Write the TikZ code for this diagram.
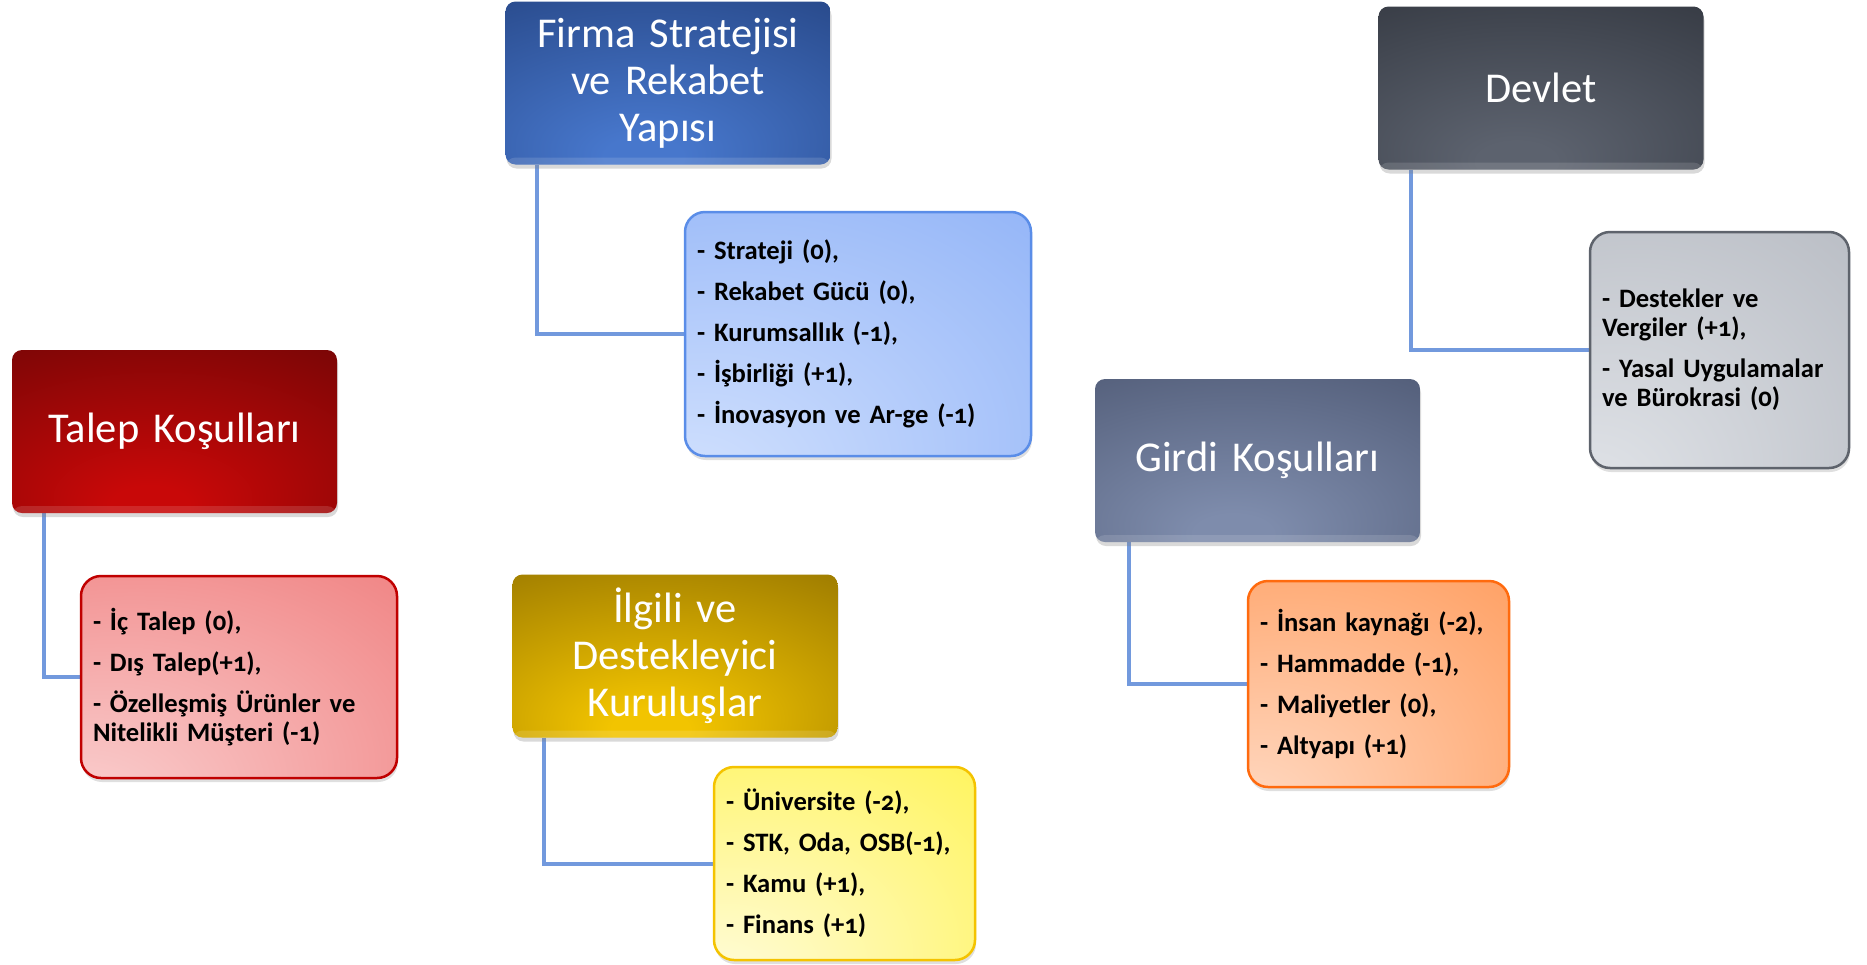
\documentclass[tikz,border=0pt]{standalone}
\usepackage{fontspec}
\setmainfont{Carlito}[Numbers=OldStyle]
\usetikzlibrary{shadows,calc}
\pgfdeclarelayer{background}
\pgfsetlayers{background,main}
\hyphenpenalty=10000
\exhyphenpenalty=10000

% heading box palettes (bright core, dark rim)
\definecolor{firmaHi}{HTML}{4777CC}\definecolor{firmaLo}{HTML}{1E3A74}
\definecolor{talepHi}{HTML}{C80808}\definecolor{talepLo}{HTML}{5E0505}
\definecolor{ilgiliHi}{HTML}{F2C400}\definecolor{ilgiliLo}{HTML}{806200}
\definecolor{girdiHi}{HTML}{7E8CAC}\definecolor{girdiLo}{HTML}{444E68}
\definecolor{devletHi}{HTML}{5C626E}\definecolor{devletLo}{HTML}{2A2E36}
% list box palettes (light core, saturated rim, border)
\definecolor{blueHi}{HTML}{CCDDFD}\definecolor{blueLo}{HTML}{84AAF6}\definecolor{blueEdge}{HTML}{5A8DE8}
\definecolor{redHi}{HTML}{F9C8C8}\definecolor{redLo}{HTML}{EE7272}\definecolor{redEdge}{HTML}{C00000}
\definecolor{yelHi}{HTML}{FFFBD0}\definecolor{yelLo}{HTML}{FFF23C}\definecolor{yelEdge}{HTML}{F4C300}
\definecolor{oraHi}{HTML}{FFD4BA}\definecolor{oraLo}{HTML}{FF924C}\definecolor{oraEdge}{HTML}{FF6A0E}
\definecolor{grayHi}{HTML}{DDE0E5}\definecolor{grayLo}{HTML}{B0B4BC}\definecolor{grayEdge}{HTML}{5E636C}
\definecolor{connblue}{HTML}{7299DD}
\colorlet{hi}{white}\colorlet{lo}{black}

\pgfdeclareradialshading[hi,lo]{headshade}{\pgfpoint{-4bp}{-24bp}}%
  {color(0bp)=(hi); color(6bp)=(hi); color(62bp)=(lo); color(100bp)=(lo)}
\pgfdeclareradialshading[hi,lo]{listshade}{\pgfpoint{-28bp}{-35bp}}%
  {color(0bp)=(hi); color(8bp)=(hi); color(70bp)=(lo); color(100bp)=(lo)}

\newcommand{\headfont}{\fontsize{42.5}{47}\selectfont}
\newcommand{\itemfont}{\fontsize{26.6}{29}\bfseries\selectfont}

\tikzset{
  headbox/.style 2 args={rectangle, rounded corners=10pt,
    minimum width=325pt, minimum height=163pt, text width=310pt,
    align=center, inner sep=0pt, text=white, font=\headfont,
    /utils/exec={\colorlet{hi}{#1}\colorlet{lo}{#2}}, shading=headshade,
    drop shadow={shadow xshift=1pt, shadow yshift=-4pt, opacity=0.3},
    path picture={\fill[white,opacity=0.13]
      ([yshift=7pt]path picture bounding box.south west) rectangle
      (path picture bounding box.south east);}},
  listbox/.style n args={3}{rectangle, rounded corners=20pt,
    draw=#3, line width=2.5pt, align=left, inner xsep=12pt, inner ysep=0pt,
    text=black, font=\itemfont,
    /utils/exec={\colorlet{hi}{#1}\colorlet{lo}{#2}}, shading=listshade,
    drop shadow={shadow xshift=1pt, shadow yshift=-4pt, opacity=0.25}},
  conn/.style={draw=connblue, line width=4pt, line join=miter}
}

\begin{document}
\begin{tikzpicture}[x=1pt, y=-1pt]
\useasboundingbox (0,0) rectangle (1867,964);

% heading boxes
\node[headbox={firmaHi}{firmaLo}] (firma) at (668,83) {Firma Stratejisi\\ve Rekabet\\Yapısı};
\node[headbox={talepHi}{talepLo}] (talep) at (174.5,431.5) {Talep Koşulları};
\node[headbox={ilgiliHi}{ilgiliLo}] (ilgili) at (675,656) {İlgili ve\\Destekleyici\\Kuruluşlar};
\node[headbox={girdiHi}{girdiLo}] (girdi) at (1257.5,460.5) {Girdi Koşulları};
\node[headbox={devletHi}{devletLo}] (devlet) at (1541,88) {Devlet};

% factor lists
\node[listbox={blueHi}{blueLo}{blueEdge}, text width=322pt, minimum height=244pt] (firmalist) at (858,334)
  {- Strateji (0),\\[12pt]- Rekabet Gücü (0),\\[12pt]- Kurumsallık (-1),\\[12pt]- İşbirliği (+1),\\[12pt]- İnovasyon ve Ar-ge (-1)};
\node[listbox={redHi}{redLo}{redEdge}, text width=292pt, minimum height=202pt] (taleplist) at (239,677)
  {- İç Talep (0),\\[12pt]- Dış Talep(+1),\\[12pt]- Özelleşmiş Ürünler ve\\Nitelikli Müşteri (-1)};
\node[listbox={yelHi}{yelLo}{yelEdge}, text width=237pt, minimum height=193pt] (ilgililist) at (844.5,863.5)
  {- Üniversite (-2),\\[12pt]- STK, Oda, OSB(-1),\\[12pt]- Kamu (+1),\\[12pt]- Finans (+1)};
\node[listbox={oraHi}{oraLo}{oraEdge}, text width=237pt, minimum height=206pt] (girdilist) at (1378.5,684)
  {- İnsan kaynağı (-2),\\[12pt]- Hammadde (-1),\\[12pt]- Maliyetler (0),\\[12pt]- Altyapı (+1)};
\node[listbox={grayHi}{grayLo}{grayEdge}, text width=235pt, minimum height=236pt] (devletlist) at (1719.5,350)
  {- Destekler ve\\Vergiler (+1),\\[12pt]- Yasal Uygulamalar\\ve Bürokrasi (0)};

% elbow connectors from each heading to its list
\begin{pgfonlayer}{background}
  \draw[conn] ([xshift=32pt]firma.south west) |- (firmalist.west);
  \draw[conn] ([xshift=32pt]talep.south west) |- (taleplist.west);
  \draw[conn] ([xshift=32pt]ilgili.south west) |- (ilgililist.west);
  \draw[conn] ([xshift=34pt]girdi.south west) |- (girdilist.west);
  \draw[conn] ([xshift=33pt]devlet.south west) |- (devletlist.west);
\end{pgfonlayer}
\end{tikzpicture}
\end{document}
